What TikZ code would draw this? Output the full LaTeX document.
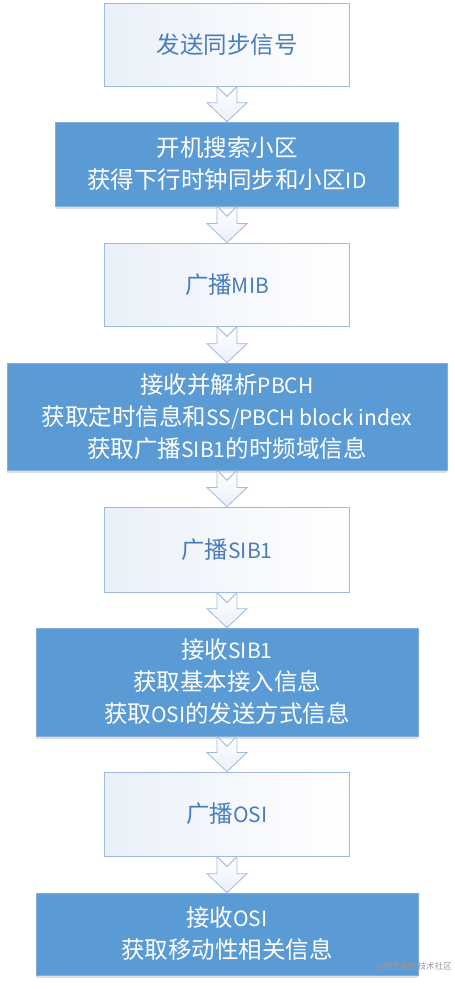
\documentclass[tikz,border=0pt]{standalone}
\usepackage{fontspec}
\setmainfont{Noto Sans CJK SC}
\usetikzlibrary{calc,shadows}
\definecolor{boxblue}{RGB}{91,155,213}
\definecolor{lineblue}{RGB}{157,185,222}
\definecolor{txtblue}{RGB}{74,126,187}
\definecolor{lightfill}{RGB}{234,240,249}
\newcommand\lt[1]{{\fontsize{21}{32}\selectfont #1}}
\tikzset{
  whitebox/.style={draw=lineblue, line width=0.9pt, left color=lightfill, right color=white,
    text=txtblue, minimum height=#1, minimum width=245pt, inner sep=0pt, align=center,
    font=\fontsize{23.5}{32}\selectfont},
  bluebox/.style 2 args={draw=lineblue!60!boxblue, line width=0.6pt, fill=boxblue, text=white,
    minimum height=#1, minimum width=#2, inner sep=0pt, align=center,
    font=\fontsize{23.5}{32}\selectfont,
    drop shadow={shadow xshift=0pt, shadow yshift=-2.5pt, opacity=0.25, fill=gray}},
  fatarrow/.style={draw=lineblue, line width=0.8pt, top color=white, bottom color=lightfill, line join=miter},
  mark text/.style={text=gray!80, font=\fontsize{8.5}{10}\selectfont, inner sep=0pt}
}
\newcommand\bigarrow[2]{%
  \path[fatarrow] let \p1=(#1.south), \p2=(#2.north) in
    (\x1-10pt,\y1) -- (\x1,\y1-10pt) -- (\x1+10pt,\y1) -- (\x1+10pt,\y2+19pt)
    -- (\x1+20pt,\y2+19pt) -- (\x2,\y2) -- (\x1-20pt,\y2+19pt) -- (\x1-10pt,\y2+19pt) -- cycle;}
\begin{document}
\begin{tikzpicture}[x=1pt,y=-1pt]
\useasboundingbox (0,0) rectangle (455,989);
\node[whitebox=83pt] (b1) at (227,44.5) {发送同步信号};
\node[bluebox={84pt}{343pt}] (b2) at (227,164) {开机搜索小区\\获得下行时钟同步和小区\lt{ID}};
\node[whitebox=83pt] (b3) at (227,284.5) {广播\lt{MIB}};
\node[bluebox={107pt}{440pt}] (b4) at (227,416.5) {接收并解析\lt{PBCH}\\获取定时信息和\lt{SS/PBCH block index}\\获取广播\lt{SIB1}的时频域信息};
\node[whitebox=85pt] (b5) at (227,549.5) {广播\lt{SIB1}};
\node[bluebox={108pt}{382pt}] (b6) at (227,682) {接收\lt{SIB1}\\获取基本接入信息\\获取\lt{OSI}的发送方式信息};
\node[whitebox=84pt] (b7) at (227,814) {广播\lt{OSI}};
\node[bluebox={82pt}{382pt}] (b8) at (227,934) {接收\lt{OSI}\\获取移动性相关信息};
\bigarrow{b1}{b2}
\bigarrow{b2}{b3}
\bigarrow{b3}{b4}
\bigarrow{b4}{b5}
\bigarrow{b5}{b6}
\bigarrow{b6}{b7}
\bigarrow{b7}{b8}
\node[mark text, anchor=east] (wm) at (452,967) {@稀土掘金技术社区};
\end{tikzpicture}
\end{document}
